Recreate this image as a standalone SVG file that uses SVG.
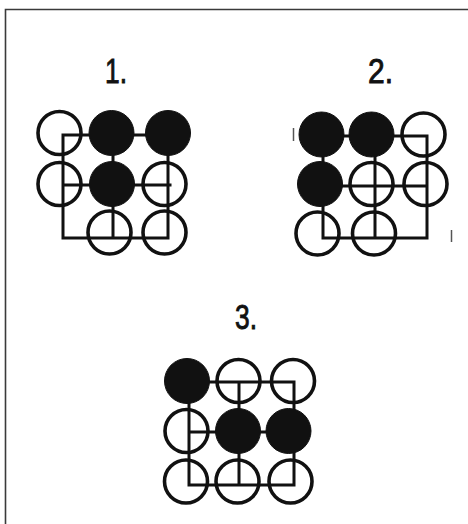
<svg xmlns="http://www.w3.org/2000/svg" width="468" height="524" viewBox="0 0 468 524">
<style>
.frame{fill:none;stroke:#3a3a3a;stroke-width:1.6}
.grid{fill:none;stroke:#111;stroke-width:3;stroke-linecap:square}
.o{fill:none;stroke:#111;stroke-width:3.6}
.b{fill:#111;stroke:#111;stroke-width:1}
.lbl{font-family:"Liberation Sans",Arial,sans-serif;font-size:35px;fill:#111;stroke:#111;stroke-width:0.9}
.tick{stroke:#555;stroke-width:1.5}
</style>
<rect width="468" height="524" fill="#fff"/>
<path class="frame" d="M5.5,524 V9.5 H468"/>
<g id="connectors">
<path class="grid" d="M63,135 H168 M63,185 H170 M63,238 H168 M63,135 V238 M113,135 V238 M168,135 V238"/>
<path class="grid" d="M323,136 H427 M323,186 H427 M323,238 H427 M323,136 V238 M375,136 V238 M427,136 V238"/>
<path class="grid" d="M189,382 H294 M189,432 H290 M189,485 H294 M189,382 V485 M239,382 V485 M294,382 V485"/>
</g>
<g id="diagram1">
<text class="lbl" x="105" y="83" textLength="22" lengthAdjust="spacingAndGlyphs">1.</text>
<circle class="o" cx="59.5" cy="133" r="21.5"/>
<circle class="b" cx="111.5" cy="133" r="22.5"/>
<circle class="b" cx="168" cy="133" r="22.5"/>
<circle class="o" cx="59.5" cy="184" r="21.5"/>
<circle class="b" cx="112" cy="184" r="22.5"/>
<circle class="o" cx="164.5" cy="184" r="21.5"/>
<circle class="o" cx="109.5" cy="232.5" r="21.5"/>
<circle class="o" cx="164.5" cy="232.5" r="21.5"/>
</g>
<g id="diagram2">
<text class="lbl" x="368" y="83" textLength="25" lengthAdjust="spacingAndGlyphs">2.</text>
<circle class="b" cx="321.5" cy="134.5" r="22.5"/>
<circle class="b" cx="371.5" cy="134.5" r="22.5"/>
<circle class="o" cx="423.5" cy="134.5" r="21.5"/>
<circle class="b" cx="320" cy="184" r="22.5"/>
<circle class="o" cx="371.5" cy="184" r="21.5"/>
<circle class="o" cx="425.5" cy="184" r="21.5"/>
<circle class="o" cx="317.5" cy="233.5" r="21.5"/>
<circle class="o" cx="374" cy="233.5" r="21.5"/>
<line class="tick" x1="293.5" y1="128" x2="293.5" y2="141"/>
<line class="tick" x1="451.5" y1="230" x2="451.5" y2="242"/>
</g>
<g id="diagram3">
<text class="lbl" x="235" y="329" textLength="22" lengthAdjust="spacingAndGlyphs">3.</text>
<circle class="b" cx="187" cy="381" r="22.5"/>
<circle class="o" cx="238.5" cy="381" r="21.5"/>
<circle class="o" cx="293" cy="381" r="21.5"/>
<circle class="o" cx="186.5" cy="431" r="21.5"/>
<circle class="b" cx="238" cy="431" r="22.5"/>
<circle class="b" cx="288.5" cy="431" r="22.5"/>
<circle class="o" cx="186" cy="481.5" r="21.5"/>
<circle class="o" cx="237.5" cy="481.5" r="21.5"/>
<circle class="o" cx="290.5" cy="481.5" r="21.5"/>
</g>
</svg>
